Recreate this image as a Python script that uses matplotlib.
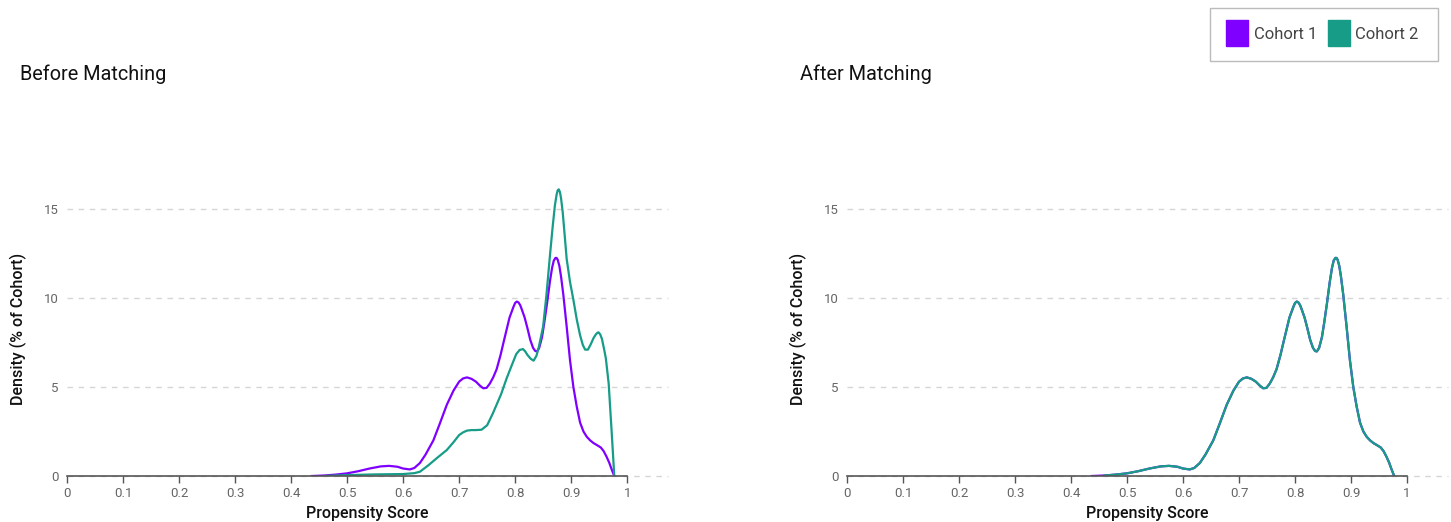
import numpy as np
from matplotlib import pyplot as plt
from matplotlib.lines import Line2D

plt.rcParams['font.family'] = ['Roboto', 'DejaVu Sans']

# propensity score densities (% of cohort)
c1_x = [0.437, 0.46, 0.48, 0.50, 0.52, 0.54, 0.56, 0.575, 0.59, 0.60, 0.612, 0.62,
        0.63, 0.64, 0.654, 0.665, 0.678, 0.69, 0.70, 0.707, 0.714, 0.722, 0.73, 0.737,
        0.743, 0.749, 0.755, 0.761, 0.767, 0.774, 0.78, 0.79, 0.797, 0.800, 0.803,
        0.806, 0.809, 0.812, 0.817, 0.822, 0.827, 0.832, 0.836, 0.839, 0.843, 0.848,
        0.852, 0.857, 0.862, 0.866, 0.869, 0.872, 0.874, 0.876, 0.879, 0.882, 0.886,
        0.892, 0.898, 0.904, 0.91, 0.916, 0.922, 0.928, 0.934, 0.94, 0.948, 0.953,
        0.958, 0.963, 0.968, 0.972, 0.977]
c1_y = [0.0, 0.03, 0.08, 0.15, 0.27, 0.42, 0.54, 0.57, 0.52, 0.42, 0.37, 0.45,
        0.73, 1.2, 2.0, 2.9, 4.0, 4.8, 5.3, 5.48, 5.54, 5.46, 5.3, 5.08,
        4.93, 4.95, 5.2, 5.55, 6.0, 6.8, 7.6, 8.9, 9.5, 9.72, 9.8,
        9.75, 9.6, 9.35, 8.9, 8.3, 7.65, 7.2, 7.02, 7.0, 7.2, 7.8,
        8.6, 9.7, 10.9, 11.7, 12.1, 12.25, 12.25, 12.15, 11.8, 11.2, 10.2,
        8.4, 6.5, 5.0, 3.9, 3.0, 2.5, 2.2, 2.0, 1.85, 1.7, 1.6,
        1.4, 1.1, 0.75, 0.4, 0.0]

c2_x = [0.46, 0.50, 0.55, 0.60, 0.62, 0.63, 0.645, 0.66, 0.678, 0.69, 0.70, 0.707,
        0.714, 0.722, 0.73, 0.74, 0.75, 0.76, 0.775, 0.785, 0.795, 0.802, 0.808,
        0.814, 0.818, 0.822, 0.828, 0.833, 0.838, 0.842, 0.85, 0.856, 0.8625, 0.867,
        0.871, 0.874, 0.876, 0.878, 0.880, 0.882, 0.885, 0.888, 0.892, 0.898, 0.904,
        0.91, 0.916, 0.921, 0.925, 0.930, 0.935, 0.940, 0.944, 0.947, 0.949, 0.952,
        0.955, 0.959, 0.962, 0.967, 0.9725, 0.977]
c2_y = [0.0, 0.05, 0.09, 0.11, 0.16, 0.24, 0.6, 1.0, 1.46, 1.9, 2.3, 2.45,
        2.55, 2.58, 2.58, 2.6, 2.85, 3.5, 4.6, 5.5, 6.3, 6.85, 7.08,
        7.13, 7.0, 6.8, 6.58, 6.48, 6.75, 7.2, 8.4, 10.2, 12.5, 14.0,
        15.2, 15.8, 16.05, 16.1, 15.95, 15.6, 14.8, 13.7, 12.2, 10.9, 9.9,
        8.8, 7.9, 7.35, 7.1, 7.1, 7.4, 7.75, 7.95, 8.05, 8.07, 7.95,
        7.7, 7.1, 6.6, 5.2, 2.4, 0.0]

# after matching cohort 2 follows cohort 1
c2m_x = c1_x[1:]
c2m_y = c1_y[1:]

xticks = [0, 0.1, 0.2, 0.3, 0.4, 0.5, 0.6, 0.7, 0.8, 0.9, 1]
xticklabels = ['0', '0.1', '0.2', '0.3', '0.4', '0.5', '0.6', '0.7', '0.8', '0.9', '1']
yticks = [0, 5, 10, 15]

purple = '#8000ff'
teal = '#179c88'

fig = plt.figure(figsize=(14.51, 5.22), dpi=100)
ax1 = fig.add_axes([0.0462, 0.0881, 0.4142, 0.5627])
ax2 = fig.add_axes([0.5837, 0.0881, 0.4142, 0.5627])

panels = [
    (ax1, 'Before Matching', [(c1_x, c1_y, purple), (c2_x, c2_y, teal)], 20),
    (ax2, 'After Matching', [(c1_x, c1_y, purple), (c2m_x, c2m_y, teal)], 800),
]

for ax, title, curves, tx in panels:
    for x, y, col in curves:
        ax.plot(x, y, color=col, lw=1.6, solid_joinstyle='round')
    ax.set_xlim(0, 1.073)
    ax.set_ylim(0, 16.5)
    for s in ['top', 'right', 'left']:
        ax.spines[s].set_visible(False)
    ax.spines['bottom'].set_bounds(0, 1)
    ax.spines['bottom'].set_color('#555555')
    ax.spines['bottom'].set_linewidth(1.2)
    ax.set_xticks(xticks)
    ax.set_xticklabels(xticklabels)
    ax.set_yticks(yticks)
    ax.tick_params(axis='x', colors='#555555', labelcolor='#666666', labelsize=9.5,
                   length=5, width=1, pad=3)
    ax.tick_params(axis='y', length=0, labelcolor='#666666', labelsize=9.5, pad=6)
    for v in yticks:
        ax.axhline(v, color='#d6d6d6', lw=1, ls=(0, (4, 4)), zorder=0, clip_on=False)
    ax.set_xlabel('Propensity Score', fontsize=11.5, fontweight='medium', color='#111111',
                  labelpad=4)
    ax.set_ylabel('Density (% of Cohort)', fontsize=11.5, fontweight='medium',
                  color='#111111', labelpad=12)
    fig.text(tx / 1451, 1 - 74 / 522, title, fontsize=14.3, color='#111111',
             ha='left', va='center')

box = [(-0.4, -0.5), (0.4, -0.5), (0.4, 0.5), (-0.4, 0.5), (-0.4, -0.5)]
handles = [Line2D([], [], ls='none', marker=box, markersize=19, color=purple),
           Line2D([], [], ls='none', marker=box, markersize=19, color=teal)]
leg = fig.legend(handles, ['Cohort 1', 'Cohort 2'], loc='upper right',
                 bbox_to_anchor=(0.991, 0.985), ncol=2, fancybox=False,
                 edgecolor='#aaaaaa', fontsize=12, handletextpad=0.5,
                 columnspacing=0.8, borderpad=1.15, borderaxespad=0, handlelength=1.0)
for t in leg.get_texts():
    t.set_color('#444444')
leg.get_frame().set_linewidth(1)

fig.savefig('out.png', dpi=100)
